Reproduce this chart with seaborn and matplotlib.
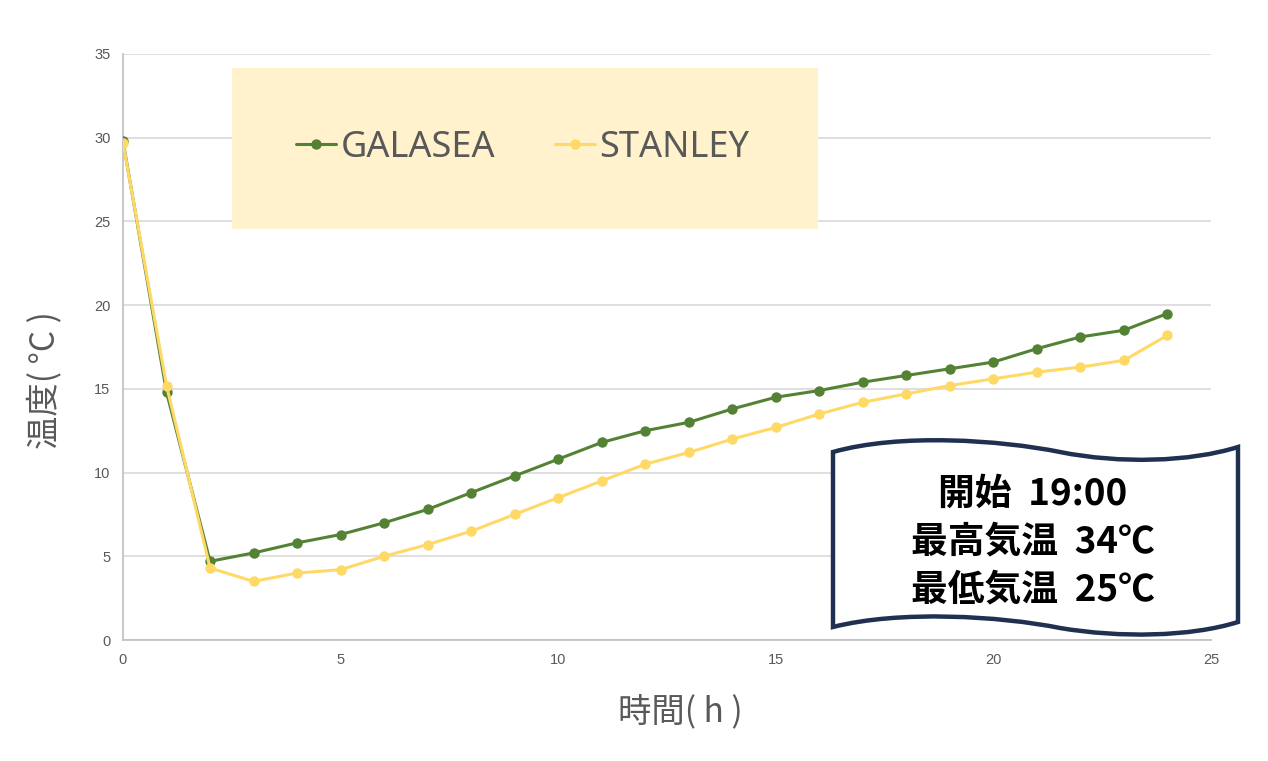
import numpy as np
import pandas as pd
import matplotlib
matplotlib.use("Agg")
import matplotlib.pyplot as plt
import seaborn as sns
from matplotlib.path import Path
from matplotlib.patches import PathPatch, Rectangle
from matplotlib.lines import Line2D

hours = list(range(0, 25))
galasea = [29.8, 14.8, 4.7, 5.2, 5.8, 6.3, 7.0, 7.8, 8.8, 9.8, 10.8, 11.8, 12.5,
           13.0, 13.8, 14.5, 14.9, 15.4, 15.8, 16.2, 16.6, 17.4, 18.1, 18.5, 19.5]
stanley = [29.7, 15.2, 4.3, 3.5, 4.0, 4.2, 5.0, 5.7, 6.5, 7.5, 8.5, 9.5, 10.5,
           11.2, 12.0, 12.7, 13.5, 14.2, 14.7, 15.2, 15.6, 16.0, 16.3, 16.7, 18.2]
series_names = ["GALASEA", "STANLEY"]
colors = ["#548235", "#FFD966"]
x_ticks = [0, 5, 10, 15, 20, 25]
y_ticks = [0, 5, 10, 15, 20, 25, 30, 35]
note_lines = ["開始  19:00", "最高気温  34℃", "最低気温  25℃"]

df = pd.DataFrame({
    "時間": hours * 2,
    "温度": galasea + stanley,
    "系列": [series_names[0]] * len(hours) + [series_names[1]] * len(hours),
})

sns.set_theme(style="white")
plt.rcParams["font.family"] = ["Noto Sans CJK JP", "DejaVu Sans"]

W, H = 1268, 761
fig = plt.figure(figsize=(W / 100, H / 100), dpi=100)
AX_L, AX_R, AX_T, AX_B = 123, 1211, 54, 640
ax = fig.add_axes([AX_L / W, 1 - AX_B / H, (AX_R - AX_L) / W, (AX_B - AX_T) / H])

sns.lineplot(data=df, x="時間", y="温度", hue="系列", palette=colors,
             marker="o", markersize=7.5, markeredgewidth=0, linewidth=2.2,
             ax=ax, legend=False, zorder=3)

ax.set_xlim(0, 25)
ax.set_ylim(0, 35)
ax.set_xticks(x_ticks)
ax.set_yticks(y_ticks)
ax.tick_params(axis="both", length=0, labelsize=10.5, colors="#595959", pad=9)
for lbl in ax.get_xticklabels() + ax.get_yticklabels():
    lbl.set_family(["Liberation Sans", "DejaVu Sans"])
ax.grid(axis="y", color="#D9D9D9", linewidth=1.2)
ax.grid(axis="x", visible=False)
for s in ["top", "right"]:
    ax.spines[s].set_visible(False)
for s in ["left", "bottom"]:
    ax.spines[s].set_color("#BFBFBF")
    ax.spines[s].set_linewidth(1.2)

ax.set_xlabel("時間( h )", fontsize=24, color="#595959")
ax.set_ylabel("温度( °C )", fontsize=24, color="#595959")
ax.xaxis.set_label_coords((680 - AX_L) / (AX_R - AX_L), -(712 - AX_B) / (AX_B - AX_T))
ax.yaxis.set_label_coords((45 - AX_L) / (AX_R - AX_L), (AX_B - 380) / (AX_B - AX_T))
ax.xaxis.label.set_va("center")
ax.yaxis.label.set_va("center")

def fx(px):
    return px / W

def fy(py):
    return 1 - py / H

# legend background
fig.patches.append(Rectangle((fx(232), fy(229)), fx(818) - fx(232), fy(68) - fy(229),
                             transform=fig.transFigure, facecolor="#FFF2CC",
                             edgecolor="none", zorder=2))
handles = [Line2D([0], [0], color=c, marker="o", markersize=7.5, markeredgewidth=0,
                  linewidth=2.2) for c in colors]
leg = fig.legend(handles, series_names, loc="center",
                 bbox_to_anchor=(fx(523), fy(148)),
                 ncol=2, frameon=False, handlelength=1.1,
                 handletextpad=0.12, columnspacing=1.67,
                 prop={"family": ["Noto Sans", "DejaVu Sans"], "size": 26})
for t in leg.get_texts():
    t.set_color("#595959")

# wavy callout box
L, R = 833, 1238
verts = [
    (L, 452),
    (900, 433), (1000, 440), (1060, 452),
    (1120, 464), (1190, 462), (R, 447),
    (R, 622),
    (1190, 637), (1120, 638), (1060, 628),
    (1000, 616), (900, 610), (L, 627),
    (L, 452),
]
codes = [Path.MOVETO,
         Path.CURVE4, Path.CURVE4, Path.CURVE4,
         Path.CURVE4, Path.CURVE4, Path.CURVE4,
         Path.LINETO,
         Path.CURVE4, Path.CURVE4, Path.CURVE4,
         Path.CURVE4, Path.CURVE4, Path.CURVE4,
         Path.CLOSEPOLY]
verts_f = [(fx(x), fy(y)) for x, y in verts]
fig.patches.append(PathPatch(Path(verts_f, codes), transform=fig.transFigure,
                             facecolor="white", edgecolor="#1F3050",
                             linewidth=3.2, zorder=5))
fig.text(fx(1033), fy(542), "\n".join(note_lines), ha="center", va="center",
         fontsize=26.5, fontweight="bold", color="black", linespacing=1.38,
         zorder=6, family=["Noto Sans CJK JP", "DejaVu Sans"])

fig.savefig("out.png", dpi=100, facecolor="white")
